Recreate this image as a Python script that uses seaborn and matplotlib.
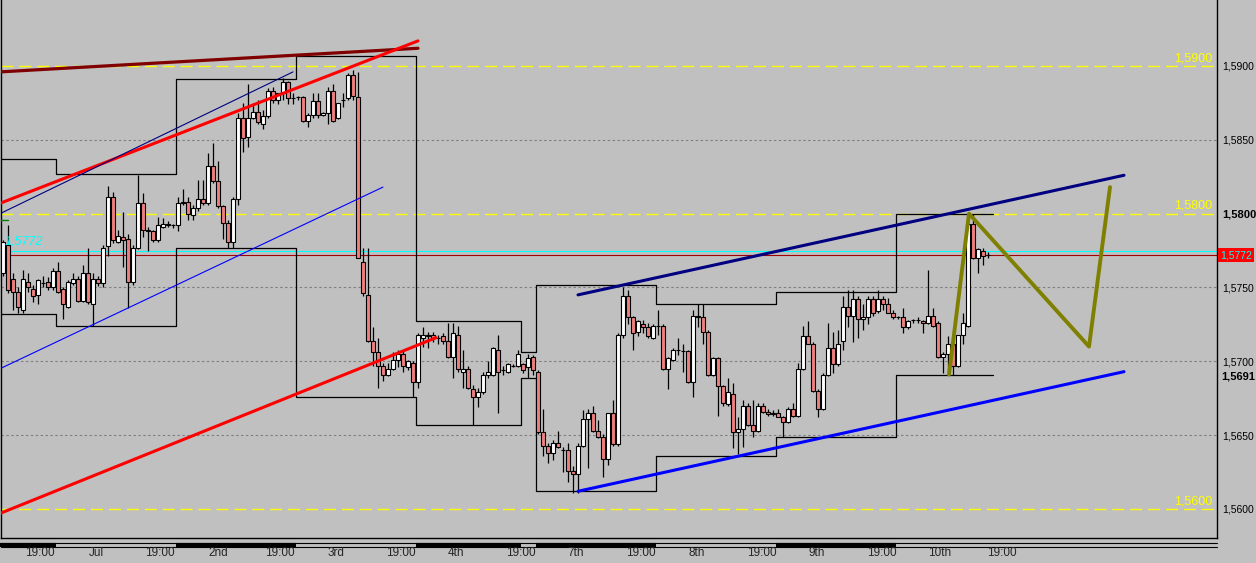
"""Grafico de velas horario con rangos diarios, canales y lineas de tendencia."""

import matplotlib

matplotlib.use("Agg")
import matplotlib.pyplot as plt
import numpy as np
import seaborn as sns

sns.set_theme(style="white")
plt.rcParams["font.family"] = ["Liberation Sans", "DejaVu Sans"]

# --- velas horarias (OHLC) ---
OPEN = [
    1.5760, 1.5779, 1.5756, 1.5747, 1.5735, 1.5754, 1.5749, 1.5745, 1.5753, 1.5754, 1.5750, 1.5761,
    1.5749, 1.5737, 1.5753, 1.5756, 1.5741, 1.5760, 1.5739, 1.5756, 1.5753, 1.5778, 1.5811, 1.5781,
    1.5784, 1.5783, 1.5754, 1.5777, 1.5807, 1.5789, 1.5788, 1.5782, 1.5791, 1.5793, 1.5792, 1.5792,
    1.5807, 1.5808, 1.5799, 1.5804, 1.5810, 1.5807, 1.5832, 1.5822, 1.5805, 1.5794, 1.5781, 1.5810,
    1.5865, 1.5852, 1.5865, 1.5869, 1.5861, 1.5866, 1.5883, 1.5877, 1.5882, 1.5889, 1.5878, 1.5879,
    1.5879, 1.5863, 1.5867, 1.5876, 1.5867, 1.5868, 1.5883, 1.5865, 1.5877, 1.5878, 1.5894, 1.5879,
    1.5767, 1.5745, 1.5714, 1.5706, 1.5697, 1.5691, 1.5695, 1.5701, 1.5705, 1.5696, 1.5699, 1.5686,
    1.5716, 1.5717, 1.5718, 1.5716, 1.5717, 1.5714, 1.5703, 1.5718, 1.5693, 1.5695, 1.5681, 1.5676,
    1.5679, 1.5691, 1.5691, 1.5708, 1.5694, 1.5693, 1.5697, 1.5697, 1.5698, 1.5696, 1.5703, 1.5693,
    1.5652, 1.5643, 1.5638, 1.5645, 1.5640, 1.5640, 1.5626, 1.5624, 1.5643, 1.5661, 1.5665, 1.5653,
    1.5649, 1.5634, 1.5665, 1.5644, 1.5718, 1.5744, 1.5730, 1.5720, 1.5725, 1.5723, 1.5716, 1.5724,
    1.5724, 1.5695, 1.5701, 1.5708, 1.5707, 1.5707, 1.5686, 1.5731, 1.5730, 1.5720, 1.5691, 1.5702,
    1.5683, 1.5671, 1.5678, 1.5652, 1.5654, 1.5670, 1.5657, 1.5653, 1.5670, 1.5666, 1.5664, 1.5665,
    1.5662, 1.5659, 1.5668, 1.5663, 1.5695, 1.5717, 1.5712, 1.5680, 1.5668, 1.5691, 1.5709, 1.5698,
    1.5714, 1.5737, 1.5731, 1.5742, 1.5729, 1.5730, 1.5742, 1.5734, 1.5742, 1.5739, 1.5733, 1.5730,
    1.5730, 1.5723, 1.5728, 1.5728, 1.5727, 1.5726, 1.5731, 1.5726, 1.5703, 1.5705, 1.5712, 1.5697,
    1.5718, 1.5724, 1.5793, 1.5770, 1.5775, 1.5772,
]
HIGH = [
    1.5782, 1.5792, 1.5760, 1.5750, 1.5762, 1.5760, 1.5752, 1.5756, 1.5758, 1.5757, 1.5763, 1.5767,
    1.5750, 1.5755, 1.5760, 1.5758, 1.5765, 1.5777, 1.5760, 1.5758, 1.5779, 1.5819, 1.5815, 1.5789,
    1.5801, 1.5786, 1.5779, 1.5826, 1.5814, 1.5791, 1.5789, 1.5798, 1.5797, 1.5795, 1.5793, 1.5811,
    1.5817, 1.5811, 1.5806, 1.5823, 1.5823, 1.5841, 1.5848, 1.5836, 1.5806, 1.5796, 1.5811, 1.5868,
    1.5875, 1.5888, 1.5875, 1.5877, 1.5870, 1.5885, 1.5886, 1.5882, 1.5892, 1.5890, 1.5882, 1.5880,
    1.5880, 1.5868, 1.5882, 1.5882, 1.5869, 1.5886, 1.5888, 1.5875, 1.5882, 1.5895, 1.5897, 1.5896,
    1.5777, 1.5777, 1.5723, 1.5716, 1.5699, 1.5699, 1.5706, 1.5708, 1.5708, 1.5701, 1.5700, 1.5719,
    1.5723, 1.5720, 1.5720, 1.5718, 1.5719, 1.5726, 1.5726, 1.5724, 1.5708, 1.5697, 1.5684, 1.5682,
    1.5693, 1.5700, 1.5710, 1.5718, 1.5697, 1.5699, 1.5698, 1.5708, 1.5699, 1.5705, 1.5704, 1.5694,
    1.5668, 1.5645, 1.5647, 1.5653, 1.5642, 1.5645, 1.5629, 1.5645, 1.5667, 1.5668, 1.5670, 1.5660,
    1.5651, 1.5665, 1.5674, 1.5719, 1.5750, 1.5748, 1.5731, 1.5728, 1.5728, 1.5726, 1.5725, 1.5735,
    1.5725, 1.5703, 1.5709, 1.5716, 1.5712, 1.5708, 1.5735, 1.5739, 1.5739, 1.5721, 1.5703, 1.5703,
    1.5684, 1.5689, 1.5685, 1.5662, 1.5674, 1.5672, 1.5674, 1.5672, 1.5672, 1.5668, 1.5667, 1.5668,
    1.5663, 1.5669, 1.5672, 1.5699, 1.5724, 1.5727, 1.5713, 1.5681, 1.5692, 1.5726, 1.5720, 1.5721,
    1.5744, 1.5748, 1.5748, 1.5744, 1.5739, 1.5744, 1.5744, 1.5748, 1.5744, 1.5743, 1.5735, 1.5731,
    1.5736, 1.5728, 1.5729, 1.5730, 1.5728, 1.5762, 1.5736, 1.5727, 1.5706, 1.5717, 1.5713, 1.5718,
    1.5733, 1.5800, 1.5800, 1.5777, 1.5777, 1.5774,
]
LOW = [
    1.5758, 1.5746, 1.5735, 1.5733, 1.5733, 1.5747, 1.5740, 1.5739, 1.5750, 1.5748, 1.5748, 1.5746,
    1.5729, 1.5736, 1.5752, 1.5740, 1.5740, 1.5739, 1.5724, 1.5751, 1.5750, 1.5771, 1.5780, 1.5780,
    1.5764, 1.5736, 1.5752, 1.5776, 1.5784, 1.5775, 1.5781, 1.5781, 1.5790, 1.5791, 1.5790, 1.5788,
    1.5806, 1.5796, 1.5796, 1.5802, 1.5806, 1.5806, 1.5821, 1.5804, 1.5783, 1.5777, 1.5777, 1.5806,
    1.5842, 1.5845, 1.5864, 1.5861, 1.5857, 1.5865, 1.5875, 1.5874, 1.5877, 1.5874, 1.5874, 1.5877,
    1.5862, 1.5859, 1.5865, 1.5865, 1.5866, 1.5861, 1.5862, 1.5864, 1.5872, 1.5877, 1.5877, 1.5770,
    1.5744, 1.5713, 1.5697, 1.5682, 1.5687, 1.5690, 1.5694, 1.5696, 1.5693, 1.5694, 1.5676, 1.5682,
    1.5710, 1.5709, 1.5713, 1.5712, 1.5712, 1.5702, 1.5689, 1.5693, 1.5682, 1.5681, 1.5657, 1.5669,
    1.5678, 1.5689, 1.5690, 1.5665, 1.5691, 1.5692, 1.5696, 1.5696, 1.5692, 1.5689, 1.5691, 1.5651,
    1.5636, 1.5631, 1.5633, 1.5641, 1.5625, 1.5618, 1.5611, 1.5611, 1.5642, 1.5628, 1.5652, 1.5648,
    1.5622, 1.5630, 1.5643, 1.5643, 1.5716, 1.5725, 1.5708, 1.5717, 1.5719, 1.5716, 1.5715, 1.5718,
    1.5694, 1.5681, 1.5700, 1.5704, 1.5693, 1.5685, 1.5676, 1.5723, 1.5712, 1.5690, 1.5690, 1.5663,
    1.5670, 1.5670, 1.5641, 1.5637, 1.5642, 1.5656, 1.5649, 1.5652, 1.5665, 1.5663, 1.5663, 1.5662,
    1.5649, 1.5658, 1.5662, 1.5662, 1.5694, 1.5712, 1.5679, 1.5662, 1.5667, 1.5690, 1.5692, 1.5697,
    1.5708, 1.5723, 1.5713, 1.5716, 1.5721, 1.5725, 1.5731, 1.5733, 1.5735, 1.5733, 1.5729, 1.5729,
    1.5719, 1.5722, 1.5726, 1.5726, 1.5719, 1.5725, 1.5723, 1.5702, 1.5692, 1.5692, 1.5691, 1.5696,
    1.5712, 1.5723, 1.5769, 1.5760, 1.5765, 1.5770,
]
CLOSE = [
    1.5781, 1.5748, 1.5747, 1.5737, 1.5756, 1.5750, 1.5744, 1.5755, 1.5753, 1.5750, 1.5761, 1.5747,
    1.5739, 1.5754, 1.5756, 1.5741, 1.5760, 1.5740, 1.5756, 1.5753, 1.5777, 1.5811, 1.5782, 1.5785,
    1.5782, 1.5754, 1.5777, 1.5807, 1.5789, 1.5788, 1.5782, 1.5792, 1.5793, 1.5792, 1.5792, 1.5807,
    1.5808, 1.5800, 1.5804, 1.5810, 1.5807, 1.5832, 1.5822, 1.5805, 1.5794, 1.5781, 1.5810, 1.5865,
    1.5851, 1.5865, 1.5869, 1.5862, 1.5866, 1.5883, 1.5877, 1.5882, 1.5889, 1.5878, 1.5878, 1.5879,
    1.5863, 1.5867, 1.5876, 1.5867, 1.5868, 1.5883, 1.5863, 1.5875, 1.5877, 1.5894, 1.5880, 1.5770,
    1.5746, 1.5714, 1.5706, 1.5697, 1.5691, 1.5695, 1.5701, 1.5705, 1.5697, 1.5700, 1.5686, 1.5718,
    1.5718, 1.5718, 1.5716, 1.5716, 1.5714, 1.5703, 1.5719, 1.5695, 1.5695, 1.5682, 1.5676, 1.5679,
    1.5691, 1.5693, 1.5709, 1.5693, 1.5694, 1.5698, 1.5697, 1.5705, 1.5694, 1.5702, 1.5694, 1.5652,
    1.5643, 1.5638, 1.5645, 1.5642, 1.5640, 1.5626, 1.5624, 1.5643, 1.5661, 1.5665, 1.5653, 1.5649,
    1.5634, 1.5665, 1.5644, 1.5718, 1.5744, 1.5730, 1.5719, 1.5727, 1.5723, 1.5717, 1.5724, 1.5724,
    1.5695, 1.5702, 1.5708, 1.5708, 1.5707, 1.5686, 1.5731, 1.5730, 1.5720, 1.5691, 1.5702, 1.5683,
    1.5672, 1.5679, 1.5652, 1.5654, 1.5670, 1.5657, 1.5653, 1.5670, 1.5666, 1.5664, 1.5665, 1.5662,
    1.5659, 1.5668, 1.5663, 1.5695, 1.5717, 1.5712, 1.5680, 1.5668, 1.5691, 1.5709, 1.5698, 1.5712,
    1.5737, 1.5731, 1.5742, 1.5729, 1.5730, 1.5742, 1.5733, 1.5742, 1.5739, 1.5733, 1.5730, 1.5730,
    1.5723, 1.5727, 1.5728, 1.5728, 1.5726, 1.5731, 1.5724, 1.5703, 1.5705, 1.5712, 1.5697, 1.5718,
    1.5726, 1.5793, 1.5770, 1.5776, 1.5771, 1.5772,
]

# --- rango diario (maximo / minimo de cada sesion) ---
DAY_EDGES = [-0.6, 10.5, 34.5, 58.5, 82.5, 103.5, 106.5, 130.5, 154.5, 178.5, 198.0]
DAY_HIGH = [1.5837, 1.5827, 1.5891, 1.5907, 1.5727, 1.5706, 1.5752, 1.5739, 1.5747, 1.5800]
DAY_LOW = [1.5732, 1.5724, 1.5777, 1.5676, 1.5657, 1.5689, 1.5612, 1.5636, 1.5649, 1.5691]
DARK_DAYS = [0, 2, 4, 6, 8]

# --- lineas de tendencia (indice de vela, precio) ---
MAROON_X, MAROON_Y = [-0.6, 83.0], [1.5896, 1.5912]
RED_UP_X, RED_UP_Y = [-0.6, 83.0], [1.5807, 1.5917]
RED_LO_X, RED_LO_Y = [-0.6, 86.6], [1.5597, 1.5716]
NAVY_THIN_X, NAVY_THIN_Y = [-0.6, 58.0], [1.5800, 1.5896]
BLUE_THIN_X, BLUE_THIN_Y = [-0.6, 76.0], [1.5695, 1.5818]
CH_TOP_X, CH_TOP_Y = [115.0, 224.2], [1.5745, 1.5826]
CH_BOT_X, CH_BOT_Y = [115.0, 224.2], [1.5612, 1.5693]
ZIGZAG_X = [189.2, 193.2, 217.2, 221.4]
ZIGZAG_Y = [1.5691, 1.5800, 1.5710, 1.5818]

GRID_LEVELS = [1.565, 1.570, 1.575, 1.585]
ROUND_LEVELS = [1.560, 1.580, 1.590]
AXIS_LEVELS = [1.560, 1.565, 1.570, 1.575, 1.580, 1.585, 1.590]
BID, ASK = 1.5772, 1.5775
DAY_LOW_NOW = 1.5691
DAY_HIGH_NOW = 1.5800

TIME_POS = [7.4, 18.6, 31.4, 43.0, 55.4, 66.6, 79.6, 90.6, 103.6, 114.6,
            127.6, 138.8, 151.8, 162.8, 175.8, 187.4, 199.8]
TIME_LABELS = ["19:00", "Jul", "19:00", "2nd", "19:00", "3rd", "19:00", "4th",
               "19:00", "7th", "19:00", "8th", "19:00", "9th", "19:00", "10th", "19:00"]

BG = "#C0C0C0"
PINK = "#F08080"


def fmt(v):
    return f"{v:.4f}".replace(".", ",")


def main() -> None:
    fig = plt.figure(figsize=(12.56, 5.63), dpi=100, facecolor=BG)
    ax = fig.add_axes([1 / 1256, 25 / 563, 1216 / 1256, 538 / 563])
    ax.set_facecolor(BG)
    ax.set_xlim(-0.4, 242.8)
    ax.set_ylim(1.558036, 1.594469)

    # niveles horizontales
    for lv in GRID_LEVELS:
        ax.axhline(lv, color="#808080", lw=0.8, dashes=(2.2, 2.2), zorder=1)
    for lv in ROUND_LEVELS:
        ax.axhline(lv, color="#FFFF00", lw=1.0, dashes=(8.6, 4.3), zorder=1)
        ax.text(0.9959, lv + 0.00012, fmt(lv), color="#FFFF00", fontsize=9,
                ha="right", va="bottom", transform=ax.get_yaxis_transform())
    ax.axhline(ASK, color="#00FFFF", lw=0.8, zorder=1.5)
    ax.axhline(BID, color="#A00000", lw=0.8, zorder=1.5)

    # rango diario como escalones
    ax.step(DAY_EDGES, DAY_HIGH + [DAY_HIGH[-1]], where="post", color="black", lw=0.9, zorder=2)
    ax.step(DAY_EDGES, DAY_LOW + [DAY_LOW[-1]], where="post", color="black", lw=0.9, zorder=2)

    # velas
    o, h, l, c = map(np.asarray, (OPEN, HIGH, LOW, CLOSE))
    x = np.arange(len(o))
    colors = np.where(c >= o, "white", PINK)
    ax.vlines(x, l, h, color="black", lw=0.9, zorder=2.9)
    ax.bar(x, np.abs(c - o), bottom=np.minimum(o, c), width=0.75, color=colors,
           edgecolor="black", linewidth=0.8, zorder=3)

    # lineas de tendencia
    lines = [
        (MAROON_X, MAROON_Y, "#800000", 2.3),
        (RED_UP_X, RED_UP_Y, "#FF0000", 2.2),
        (RED_LO_X, RED_LO_Y, "#FF0000", 2.2),
        (NAVY_THIN_X, NAVY_THIN_Y, "#000080", 0.8),
        (BLUE_THIN_X, BLUE_THIN_Y, "#0000FF", 0.8),
        (CH_TOP_X, CH_TOP_Y, "#000080", 2.2),
        (CH_BOT_X, CH_BOT_Y, "#0000FF", 2.2),
        (ZIGZAG_X, ZIGZAG_Y, "#808000", 2.8),
    ]
    for lx, ly, col, lw in lines:
        sns.lineplot(x=lx, y=ly, color=col, lw=lw, ax=ax, sort=False,
                     estimator=None, zorder=5)

    # marcas a la izquierda
    ax.plot([-0.6, 1.0], [1.5796, 1.5796], color="#008000", lw=1.0, zorder=4)
    ax.text(0.4, 1.5781, fmt(BID), color="#00FFFF", fontsize=9, style="italic",
            va="center", ha="left", zorder=6)

    # eje de precios a la derecha
    ax.set_xticks([])
    ax.yaxis.tick_right()
    ax.set_yticks(AXIS_LEVELS)
    ax.set_yticklabels([fmt(v) for v in AXIS_LEVELS], fontsize=7.5)
    ax.tick_params(axis="y", length=0, pad=4, colors="black")
    for lab, v in zip(ax.get_yticklabels(), AXIS_LEVELS):
        if abs(v - DAY_HIGH_NOW) < 1e-9:
            lab.set_fontweight("bold")
            lab.set_fontsize(8)
    yt = ax.get_yaxis_transform()
    ax.text(1.0025, BID, fmt(BID), color="#00FFFF", fontsize=7.5,
            ha="left", va="center", transform=yt,
            bbox=dict(boxstyle="square,pad=0.2", fc="#FF0000", ec="none"))
    ax.text(1.0036, DAY_LOW_NOW - 0.0001, fmt(DAY_LOW_NOW), fontsize=8,
            fontweight="bold", color="black", ha="left", va="center", transform=yt)

    ax.spines["top"].set_visible(False)
    for side in ("left", "right", "bottom"):
        ax.spines[side].set_color("black")
        ax.spines[side].set_linewidth(1.0)

    # franja de sesiones y etiquetas de tiempo
    xt = ax.get_xaxis_transform()
    for yy in (-0.0102, -0.0167):
        ax.plot([-0.4, 242.8], [yy, yy], color="black", lw=0.8, transform=xt, clip_on=False)
    for d in DARK_DAYS:
        ax.plot([DAY_EDGES[d], DAY_EDGES[d + 1]], [-0.0135, -0.0135], color="black",
                lw=3.0, transform=xt, clip_on=False, solid_capstyle="butt")
    for pos, lab in zip(TIME_POS, TIME_LABELS):
        ax.text(pos, -0.0285, lab, fontsize=8.5, ha="center", va="center",
                transform=xt, clip_on=False)

    fig.savefig("out.png", dpi=100, facecolor=BG)
    plt.close(fig)


if __name__ == "__main__":
    main()
